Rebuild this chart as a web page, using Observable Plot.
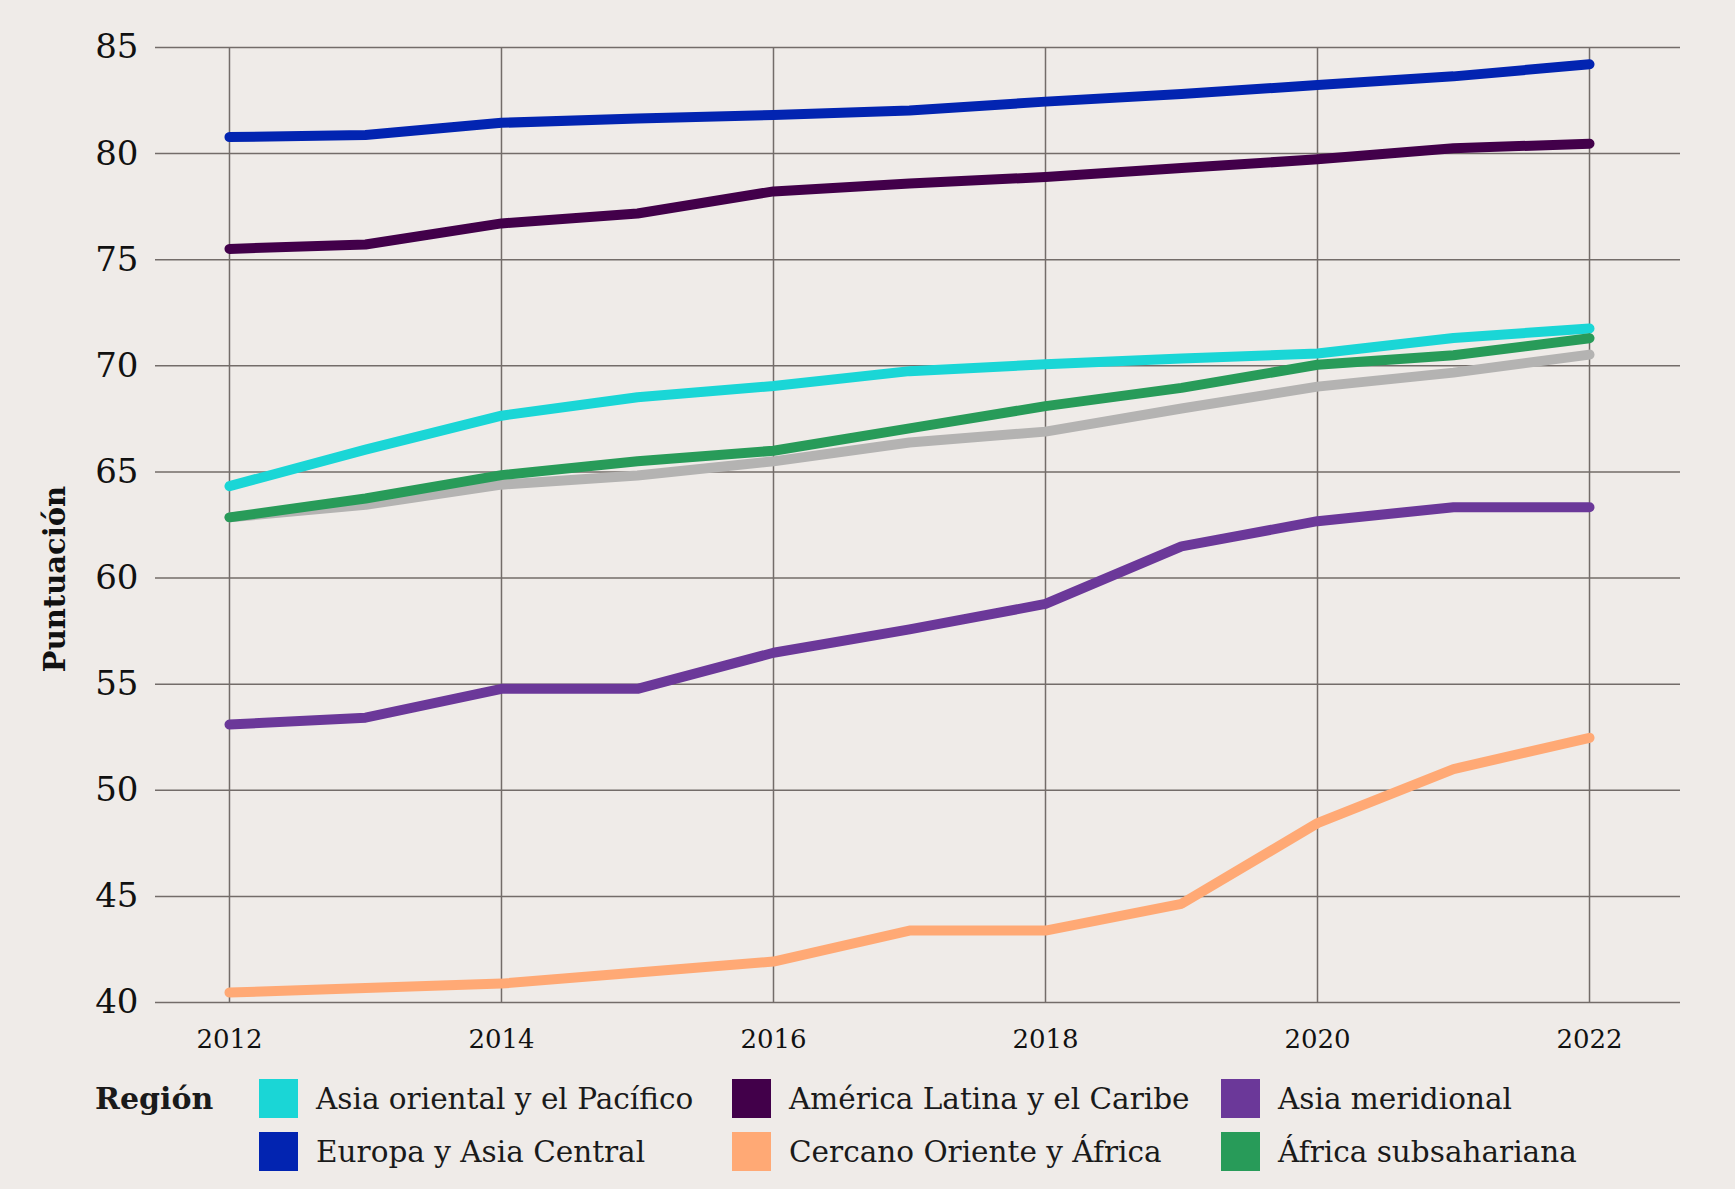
<!DOCTYPE html>
<html>
<head>
<meta charset="utf-8">
<script src="https://cdn.jsdelivr.net/npm/d3@7"></script>
<script src="https://cdn.jsdelivr.net/npm/@observablehq/plot@0.6"></script>
<style>
  html, body { margin: 0; padding: 0; background: #efebe8; }
  #wrap { position: relative; width: 1735px; height: 1189px; background: #efebe8; font-family: "DejaVu Serif", serif; color: #1a1a1a; overflow: hidden; }
  #chart svg { display: block; }
  #legend { position: absolute; left: 95px; top: 1079px; display: grid; grid-template-columns: 164px 473px 489px 420px; grid-auto-rows: 53px; align-items: start; }
  .ltitle { font-weight: bold; font-size: 30px; height: 39px; line-height: 39px; }
  .item { display: flex; align-items: center; height: 39px; font-size: 29.5px; white-space: nowrap; }
  .sw { width: 39px; height: 39px; margin-right: 18px; flex: none; }
</style>
</head>
<body>
<div id="wrap">
  <div id="chart"></div>
  <div id="legend"></div>
</div>
<script>
// ---- data ----
const years = [2012, 2013, 2014, 2015, 2016, 2017, 2018, 2019, 2020, 2021, 2022];

const asiaOriental    = [64.33, 66.05, 67.65, 68.52, 69.05, 69.75, 70.07, 70.35, 70.58, 71.31, 71.76];
const europaAsiaC     = [80.78, 80.88, 81.45, 81.66, 81.82, 82.03, 82.45, 82.81, 83.23, 83.64, 84.21];
const americaLatina   = [75.51, 75.72, 76.71, 77.18, 78.22, 78.59, 78.90, 79.32, 79.73, 80.25, 80.47];
const cercanoOriente  = [40.47, 40.68, 40.89, 41.41, 41.93, 43.39, 43.39, 44.65, 48.45, 51.00, 52.47];
const asiaMeridional  = [53.10, 53.42, 54.78, 54.78, 56.48, 57.58, 58.78, 61.49, 62.68, 63.34, 63.34];
const africaSub       = [62.86, 63.75, 64.85, 65.50, 66.00, 67.05, 68.10, 68.96, 70.05, 70.50, 71.30];
const mundo           = [62.86, 63.45, 64.40, 64.83, 65.50, 66.39, 66.90, 67.99, 69.02, 69.68, 70.53];

const seriesNames  = ["Mundo", "Asia oriental y el Pacífico", "Europa y Asia Central", "América Latina y el Caribe", "Cercano Oriente y África", "Asia meridional", "África subsahariana"];
const seriesValues = [mundo, asiaOriental, europaAsiaC, americaLatina, cercanoOriente, asiaMeridional, africaSub];
const seriesColors = ["#b4b3b2", "#1ad6d6", "#0224b1", "#42004a", "#ffa975", "#6b3899", "#289b59"];

// legend order (row-major, 3 columns)
const legendNames = ["Asia oriental y el Pacífico", "América Latina y el Caribe", "Asia meridional",
                     "Europa y Asia Central", "Cercano Oriente y África", "África subsahariana"];

const xTicks = [2012, 2014, 2016, 2018, 2020, 2022];
const yTicks = [40, 45, 50, 55, 60, 65, 70, 75, 80, 85];

// ---- build table ----
const rows = [];
seriesNames.forEach((s, i) => years.forEach((yr, j) => rows.push({serie: s, year: yr, value: seriesValues[i][j]})));

const gridStyle = {stroke: "#736c69", strokeOpacity: 1, strokeWidth: 1.5};

const chart = Plot.plot({
  width: 1735,
  height: 1065,
  marginTop: 47,
  marginBottom: 63,
  marginLeft: 155,
  marginRight: 55,
  style: {background: "transparent", fontFamily: "DejaVu Serif, serif", color: "#111"},
  x: {domain: [2011.456, 2022.669], label: null},
  y: {domain: [40, 85], label: null},
  color: {domain: seriesNames, range: seriesColors},
  marks: [
    Plot.gridY(yTicks, gridStyle),
    Plot.gridX(xTicks, gridStyle),
    Plot.axisX(xTicks, {tickFormat: "d", tickSize: 0, tickPadding: 27, fontSize: 26, label: null}),
    Plot.axisY(yTicks, {tickSize: 0, tickPadding: 17, fontSize: 34, label: null}),
    Plot.line(rows, {x: "year", y: "value", z: "serie", stroke: "serie", strokeWidth: 10,
                     strokeLinecap: "round", strokeLinejoin: "round"}),
    Plot.text(["Puntuación"], {frameAnchor: "left", textAnchor: "middle", dx: -100, dy: 54, rotate: -90,
                               fontSize: 29, fontWeight: "bold", fill: "#111"})
  ]
});
document.getElementById("chart").appendChild(chart);

// ---- legend ----
const legend = document.getElementById("legend");
const title = document.createElement("div");
title.className = "ltitle";
title.textContent = "Región";
title.style.gridColumn = "1"; title.style.gridRow = "1";
legend.appendChild(title);
legendNames.forEach((name, k) => {
  const it = document.createElement("div");
  it.className = "item";
  it.style.gridColumn = String(2 + (k % 3));
  it.style.gridRow = String(1 + Math.floor(k / 3));
  const sw = document.createElement("span");
  sw.className = "sw";
  sw.style.background = seriesColors[seriesNames.indexOf(name)];
  const tx = document.createElement("span");
  tx.textContent = name;
  it.appendChild(sw); it.appendChild(tx);
  legend.appendChild(it);
});
</script>
</body>
</html>
